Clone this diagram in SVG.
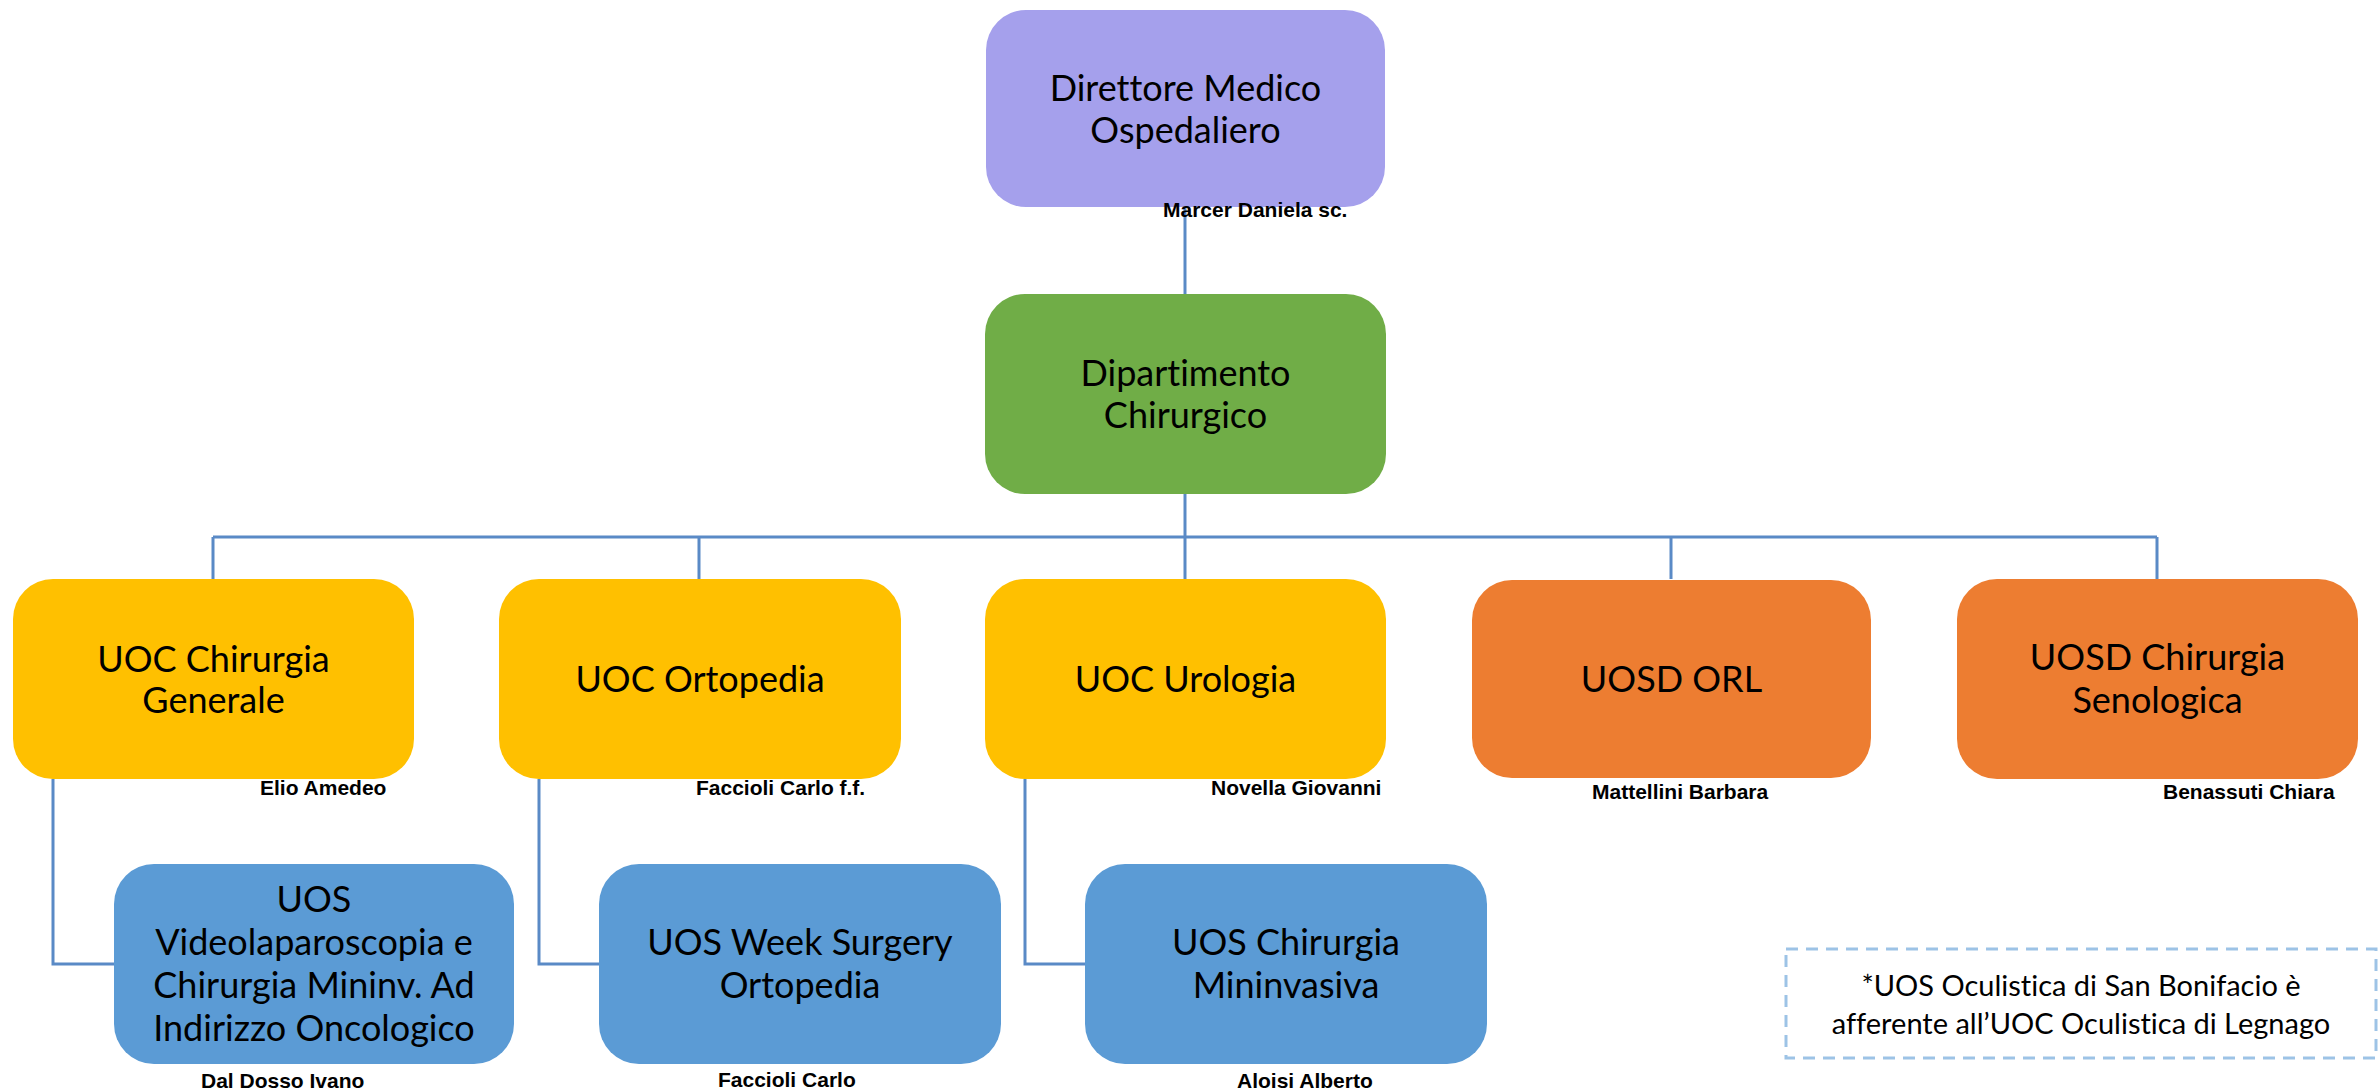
<svg xmlns="http://www.w3.org/2000/svg" width="2379" height="1091" viewBox="0 0 2379 1091">
<style>
.box{stroke:none}
.dir{fill:#A5A0EC}
.dep{fill:#70AD47}
.uoc{fill:#FFC000}
.uosd{fill:#ED7D31}
.uos{fill:#5B9BD5}
.t{font-family:Lato,"Open Sans",sans-serif;font-size:36px;fill:#000;text-anchor:middle;font-variant-ligatures:none;font-feature-settings:"liga" 0,"clig" 0}
.n{font-family:"Liberation Sans",Arial,sans-serif;font-size:21px;font-weight:bold;fill:#000}
.c{fill:none;stroke:#5A8AC6;stroke-width:3}
.note{fill:none;stroke:#9DC3E6;stroke-width:3;stroke-dasharray:12 8}
.nt{font-family:Lato,"Open Sans",sans-serif;font-size:29px;fill:#000;text-anchor:middle;font-variant-ligatures:none;font-feature-settings:"liga" 0,"clig" 0}
</style>
<rect width="2379" height="1091" fill="#fff"/>
<g id="connectors">
<path class="c" d="M1185 207V294"/>
<path class="c" d="M1185 494V537"/>
<path class="c" d="M213 537H2157"/>
<path class="c" d="M213 537V579M699 537V579M1185 537V579M1671 537V579M2157 537V579"/>
<path class="c" d="M53 779V964H114"/>
<path class="c" d="M539 779V964H599"/>
<path class="c" d="M1025 779V964H1085"/>
</g>
<g id="direttore">
<rect class="box dir" x="986" y="10" width="399" height="197" rx="40"/>
<text class="t" x="1185.5" y="101">Direttore Medico</text>
<text class="t" x="1185.5" y="143">Ospedaliero</text>
<text class="n" x="1163" y="217">Marcer Daniela sc.</text>
</g>
<g id="dipartimento">
<rect class="box dep" x="985" y="294" width="401" height="200" rx="40"/>
<text class="t" x="1185.5" y="386">Dipartimento</text>
<text class="t" x="1185.5" y="428">Chirurgico</text>
</g>
<g id="uoc-chirurgia-generale">
<rect class="box uoc" x="13" y="579" width="401" height="200" rx="40"/>
<text class="t" x="213.5" y="672">UOC Chirurgia</text>
<text class="t" x="213.5" y="713">Generale</text>
<text class="n" x="260" y="795">Elio Amedeo</text>
</g>
<g id="uoc-ortopedia">
<rect class="box uoc" x="499" y="579" width="402" height="200" rx="40"/>
<text class="t" x="700" y="692">UOC Ortopedia</text>
<text class="n" x="696" y="795">Faccioli Carlo f.f.</text>
</g>
<g id="uoc-urologia">
<rect class="box uoc" x="985" y="579" width="401" height="200" rx="40"/>
<text class="t" x="1185.5" y="692">UOC Urologia</text>
<text class="n" x="1211" y="795">Novella Giovanni</text>
</g>
<g id="uosd-orl">
<rect class="box uosd" x="1472" y="580" width="399" height="198" rx="40"/>
<text class="t" x="1671.5" y="692">UOSD ORL</text>
<text class="n" x="1592" y="799">Mattellini Barbara</text>
</g>
<g id="uosd-senologica">
<rect class="box uosd" x="1957" y="579" width="401" height="200" rx="40"/>
<text class="t" x="2157.5" y="670">UOSD Chirurgia</text>
<text class="t" x="2157.5" y="713">Senologica</text>
<text class="n" x="2163" y="799">Benassuti Chiara</text>
</g>
<g id="uos-videolaparoscopia">
<rect class="box uos" x="114" y="864" width="400" height="200" rx="40"/>
<text class="t" x="314" y="912">UOS</text>
<text class="t" x="314" y="955">Videolaparoscopia e</text>
<text class="t" x="314" y="998">Chirurgia Mininv. Ad</text>
<text class="t" x="314" y="1041">Indirizzo Oncologico</text>
<text class="n" x="201" y="1088">Dal Dosso Ivano</text>
</g>
<g id="uos-week-surgery">
<rect class="box uos" x="599" y="864" width="402" height="200" rx="40"/>
<text class="t" x="800" y="955">UOS Week Surgery</text>
<text class="t" x="800" y="998">Ortopedia</text>
<text class="n" x="718" y="1087">Faccioli Carlo</text>
</g>
<g id="uos-chirurgia-mininvasiva">
<rect class="box uos" x="1085" y="864" width="402" height="200" rx="40"/>
<text class="t" x="1286" y="955">UOS Chirurgia</text>
<text class="t" x="1286" y="998">Mininvasiva</text>
<text class="n" x="1237" y="1088">Aloisi Alberto</text>
</g>
<g id="nota">
<rect class="note" x="1786" y="949" width="590" height="109"/>
<text class="nt" x="2081" y="996">*UOS Oculistica di San Bonifacio è</text>
<text class="nt" x="2081" y="1034">afferente all’UOC Oculistica di Legnago</text>
</g>
</svg>
